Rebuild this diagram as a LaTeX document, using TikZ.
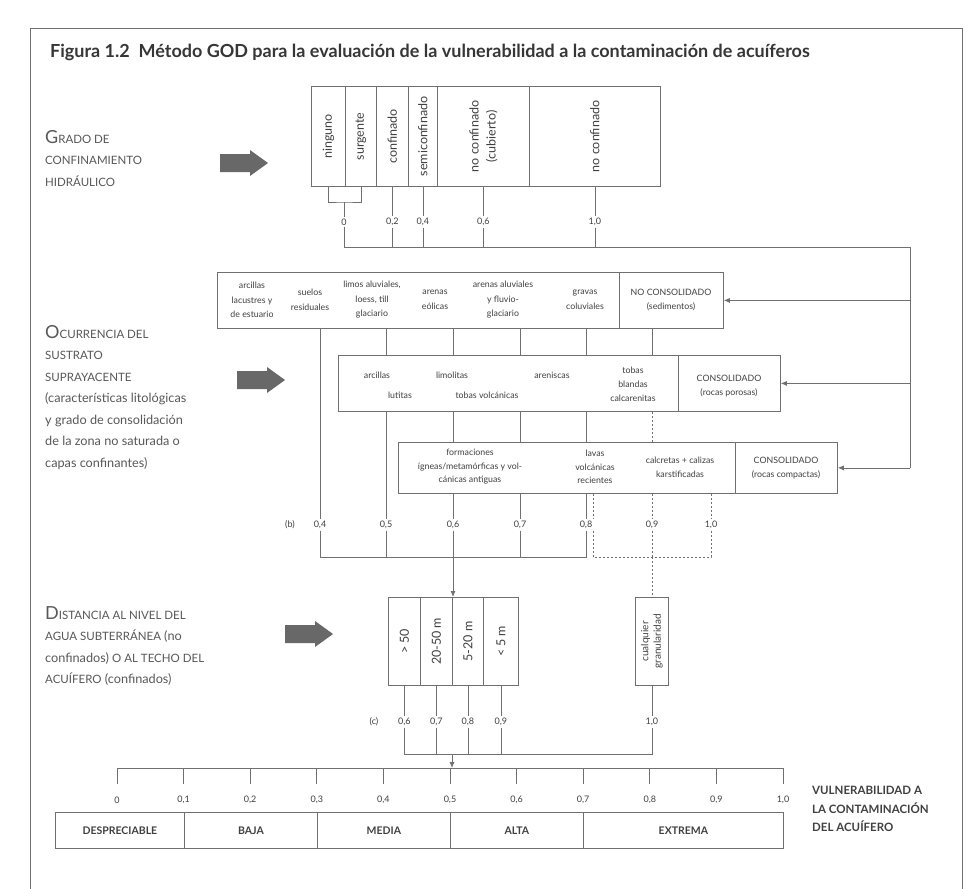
\documentclass[tikz,border=0pt]{standalone}
\usepackage{fontspec}
\setmainfont{Lato}
\usetikzlibrary{arrows.meta}
\definecolor{lc}{HTML}{707070}
\definecolor{tc}{HTML}{404040}
\definecolor{lbc}{HTML}{585858}
\definecolor{ac}{HTML}{686868}
\newcommand{\BigIn}[1]{{\fontsize{18}{18}\selectfont #1}}
\newcommand{\SmCp}[1]{{\fontsize{11.5}{11.5}\selectfont #1}}
\tikzset{
 ln/.style={draw=lc, line width=0.8pt},
 dl/.style={ln, dash pattern=on 2.2pt off 1.8pt},
 bx/.style={draw=lc, line width=0.8pt, inner sep=0, text=tc},
 lt/.style={text=tc, font=\fontsize{8.8}{14.5}\selectfont, align=center, inner sep=0},
 rt/.style={text=tc, font=\fontsize{12.5}{17}\selectfont, inner sep=0, rotate=90, align=center},
 val/.style={text=tc, font=\fontsize{9}{10}\selectfont, inner sep=1.5pt},
 lbl/.style={text=lbc, font=\fontsize{12.7}{21.5}\selectfont, align=left, inner sep=0},
 hd/.style={-{Latex[length=6pt,width=5pt]}},
 cat/.style={bx, font=\bfseries\fontsize{10.5}{12}\selectfont},
}
\begin{document}
\begin{tikzpicture}[x=1pt,y=-1pt]
\useasboundingbox (0,0) rectangle (970,889);
\fill[white] (0,0) rectangle (970,889);
% frame
\draw[lc, line width=0.8pt] (30,900) -- (30,28) -- (962,28) -- (962,900);
% title
\node[anchor=west, font=\bfseries\fontsize{18}{20}\selectfont, text=tc!85!black, inner sep=0] (title) at (50,52)
 {Figura 1.2 \ Método GOD para la evaluación de la vulnerabilidad a la contaminación de acuíferos};
% left labels
\node[lbl, anchor=north west] (lg) at (45,130) {\BigIn{G}\SmCp{RADO DE}\\ \SmCp{CONFINAMIENTO}\\ \SmCp{HIDRÁULICO}};
\node[lbl, anchor=north west] (lo) at (45,325) {\BigIn{O}\SmCp{CURRENCIA DEL}\\ \SmCp{SUSTRATO}\\ \SmCp{SUPRAYACENTE}\\ (características litológicas\\ y grado de consolidación\\ de la zona no saturada o\\ capas confinantes)};
\node[lbl, anchor=north west] (ld) at (45,606) {\BigIn{D}\SmCp{ISTANCIA AL NIVEL DEL}\\ \SmCp{AGUA SUBTERRÁNEA} (no\\ confinados) \SmCp{O AL TECHO DEL}\\ \SmCp{ACUÍFERO} (confinados)};
% block arrows
\foreach \ax/\ay in {220/163, 237/380, 285/634}
  \fill[ac, shift={(\ax,\ay)}] (0,-9) -- (30,-9) -- (30,-13) -- (48,0) -- (30,13) -- (30,9) -- (0,9) -- cycle;
% top table
\node[bx, minimum width=34pt, minimum height=100pt, anchor=north west] (t1) at (311,86) {};
\node[bx, minimum width=31pt, minimum height=100pt, anchor=north west] (t2) at (345,86) {};
\node[bx, minimum width=32pt, minimum height=100pt, anchor=north west] (t3) at (376,86) {};
\node[bx, minimum width=29pt, minimum height=100pt, anchor=north west] (t4) at (408,86) {};
\node[bx, minimum width=92pt, minimum height=100pt, anchor=north west] (t5) at (437,86) {};
\node[bx, minimum width=131pt, minimum height=100pt, anchor=north west] (t6) at (529,86) {};
\node[rt] (tt1) at (t1.center) {ninguno};
\node[rt] (tt2) at (t2.center) {surgente};
\node[rt] (tt3) at (t3.center) {confinado};
\node[rt] (tt4) at (t4.center) {semiconfinado};
\node[rt] (tt5) at (t5.center) {no confinado\\(cubierto)};
\node[rt] (tt6) at (t6.center) {no confinado};
\node[val] (g0) at (344,222) {0};
\node[val] (g2) at (t3.south |- g0) {0,2};
\node[val] (g4) at (t4.south |- g0) {0,4};
\node[val] (g6) at (t5.south |- g0) {0,6};
\node[val] (g10) at (t6.south |- g0) {1,0};
\coordinate (br) at (344,202);
\coordinate (hg) at (910,247);
\draw[ln] (t1.south) |- (br) -| (t2.south);
\draw[ln] (br) -- (g0.north);
\draw[ln] (t3.south) -- (g2.north);
\draw[ln] (t4.south) -- (g4.north);
\draw[ln] (t5.south) -- (g6.north);
\draw[ln] (t6.south) -- (g10.north);
\draw[ln] (g0.south) |- (hg);
\draw[ln] (g2.south) -- (g2.south |- hg);
\draw[ln] (g4.south) -- (g4.south |- hg);
\draw[ln] (g6.south) -- (g6.south |- hg);
\draw[ln] (g10.south) -- (g10.south |- hg);
% layer boxes
\node[bx, minimum width=506pt, minimum height=56pt, anchor=north west] (L1) at (217,272) {};
\node[bx, minimum width=442pt, minimum height=56pt, anchor=north west] (L2) at (338,355) {};
\node[bx, minimum width=439pt, minimum height=51pt, anchor=north west] (L3) at (398,442) {};
\draw[ln] ([xshift=402pt]L1.north west) -- ([xshift=402pt]L1.south west);
\draw[ln] ([xshift=340pt]L2.north west) -- ([xshift=340pt]L2.south west);
\draw[ln] ([xshift=337pt]L3.north west) -- ([xshift=337pt]L3.south west);
\draw[ln] (hg) -- (hg |- L3.east);
\draw[ln,hd] (hg |- L1.east) -- (L1.east);
\draw[ln,hd] (hg |- L2.east) -- (L2.east);
\draw[ln,hd] (hg |- L3.east) -- (L3.east);
% layer 1 texts
\node[lt] (a1) at (252,300) {arcillas\\lacustres y\\de estuario};
\node[lt] (a2) at (310,300) {suelos\\residuales};
\node[lt] (a3) at (372,300) {limos aluviales,\\loess, till\\glaciario};
\node[lt] (a4) at (435,300) {arenas\\eólicas};
\node[lt] (a5) at (503,300) {arenas aluviales\\y fluvio-\\glaciario};
\node[lt] (a6) at (585,300) {gravas\\coluviales};
\node[lt] (a7) at (671,300) {NO CONSOLIDADO\\(sedimentos)};
% layer 2 texts
\node[lt] (m1) at (377,375) {arcillas};
\node[lt] (m2) at (400,395) {lutitas};
\node[lt] (m3) at (452,375) {limolitas};
\node[lt] (m4) at (487,395) {tobas volcánicas};
\node[lt, font=\fontsize{8.8}{14}\selectfont] (m5) at (633,384) {tobas\\blandas\\calcarenitas};
\node[lt] (m6) at (552,375) {areniscas};
\node[lt, font=\fontsize{8.8}{13.5}\selectfont] (m7) at (729,386) {CONSOLIDADO\\(rocas porosas)};
% layer 3 texts
\node[lt, font=\fontsize{8.8}{13.5}\selectfont] (n1) at (470,467) {formaciones\\ígneas/metamórficas y vol-\\cánicas antiguas};
\node[lt, font=\fontsize{8.8}{13.5}\selectfont] (n2) at (595,467) {lavas\\volcánicas\\recientes};
\node[lt, font=\fontsize{8.8}{14}\selectfont] (n3) at (680,467) {calcretas + calizas\\karstificadas};
\node[lt, font=\fontsize{8.8}{13.5}\selectfont] (n4) at (786,468) {CONSOLIDADO\\(rocas compactas)};
% values (b)
\node[val] (bl) at (290,525) {(b)};
\node[val] (b4) at (320,525) {0,4};
\node[val] (b5) at (386,525) {0,5};
\node[val] (b6) at (453,525) {0,6};
\node[val] (b7) at (520,525) {0,7};
\node[val] (b8) at (586,525) {0,8};
\node[val] (b9) at (652,525) {0,9};
\node[val] (b10) at (711,525) {1,0};
\coordinate (xE) at (593,0);
\coordinate (hb) at (0,557);
\draw[ln] (L1.south -| b4) -- (b4.north);
\foreach \v in {b5,b6,b7,b8,b9} \draw[ln] (L1.south -| \v) -- (L2.north -| \v);
\draw[ln] (L2.south -| b5) -- (b5.north);
\foreach \v in {b6,b7,b8} \draw[ln] (L2.south -| \v) -- (L3.north -| \v);
\draw[dl] (L2.south -| b9) -- (L3.north -| b9);
\foreach \v in {b6,b7,b8} \draw[ln] (L3.south -| \v) -- (\v.north);
\draw[dl] (L3.south -| xE) -- (xE |- b8.north);
\draw[dl] (L3.south -| b9) -- (b9.north);
\draw[dl] (L3.south -| b10) -- (b10.north);
\draw[ln] (b4.south) |- (b8.south |- hb) -- (b8.south);
\foreach \v in {b5,b6,b7} \draw[ln] (\v.south) -- (\v.south |- hb);
\draw[dl] (xE |- b8.south) |- (b10.south |- hb) -- (b10.south);
\draw[dl] (b9.south) -- (b9.south |- hb);
% distance boxes
\node[bx, minimum width=32pt, minimum height=88pt, anchor=north west] (d1) at (388,597) {};
\node[bx, minimum width=32pt, minimum height=88pt, anchor=north west] (d2) at (420,597) {};
\node[bx, minimum width=31pt, minimum height=88pt, anchor=north west] (d3) at (452,597) {};
\node[bx, minimum width=35pt, minimum height=88pt, anchor=north west] (d4) at (483,597) {};
\node[bx, minimum width=33pt, minimum height=88pt, anchor=north west] (dq) at (635,597) {};
\node[rt] (dt1) at (d1.center) {> 50};
\node[rt] (dt2) at (d2.center) {20-50 m};
\node[rt] (dt3) at (d3.center) {5-20 m};
\node[rt] (dt4) at (d4.center) {< 5 m};
\node[rt, font=\fontsize{10}{12.5}\selectfont] (dtq) at (dq.center) {cualquier\\granularidad};
\draw[ln,hd] (b6.south |- hb) -- (b6.south |- d1.north);
\draw[dl] (b9.south |- hb) -- (b9.south |- dq.north);
% values (c)
\node[val] (cl) at (374,722) {(c)};
\node[val] (c6) at (d1.south |- cl) {0,6};
\node[val] (c7) at (d2.south |- cl) {0,7};
\node[val] (c8) at (d3.south |- cl) {0,8};
\node[val] (c9) at (d4.south |- cl) {0,9};
\node[val] (c10) at (dq.south |- cl) {1,0};
\coordinate (hc) at (0,754);
\coordinate (sl) at (0,768);
\draw[ln] (d1.south) -- (c6.north);
\draw[ln] (d2.south) -- (c7.north);
\draw[ln] (d3.south) -- (c8.north);
\draw[ln] (d4.south) -- (c9.north);
\draw[ln] (dq.south) -- (c10.north);
\draw[ln] (c6.south) |- (c10.south |- hc) -- (c10.south);
\foreach \v in {c7,c8,c9} \draw[ln] (\v.south) -- (\v.south |- hc);
\draw[ln,hd] (d3.north west |- hc) -- (d3.north west |- sl);
% bottom scale
\draw[ln] (117,768) -- (783,768);
\foreach \i/\t in {0/0,1/{0,1},2/{0,2},3/{0,3},4/{0,4},5/{0,5},6/{0,6},7/{0,7},8/{0,8},9/{0,9},10/{1,0}} {
  \draw[ln] ({117+66.6*\i},768) -- ++(0,16);
  \node[val] (s\i) at ({117+66.6*\i},800) {\t};
}
\node[cat, minimum width=129pt, minimum height=36pt, anchor=north west] (k1) at (55,812) {DESPRECIABLE};
\node[cat, minimum width=133pt, minimum height=36pt, anchor=north west] (k2) at (184,812) {BAJA};
\node[cat, minimum width=133pt, minimum height=36pt, anchor=north west] (k3) at (317,812) {MEDIA};
\node[cat, minimum width=133pt, minimum height=36pt, anchor=north west] (k4) at (450,812) {ALTA};
\node[cat, minimum width=200pt, minimum height=36pt, anchor=north west] (k5) at (583,812) {EXTREMA};
\node[anchor=north west, align=left, inner sep=0, text=tc, font=\bfseries\fontsize{11.5}{18.5}\selectfont] (vt) at (812,786)
 {VULNERABILIDAD A\\LA CONTAMINACIÓN\\DEL ACUÍFERO};
\end{tikzpicture}
\end{document}
